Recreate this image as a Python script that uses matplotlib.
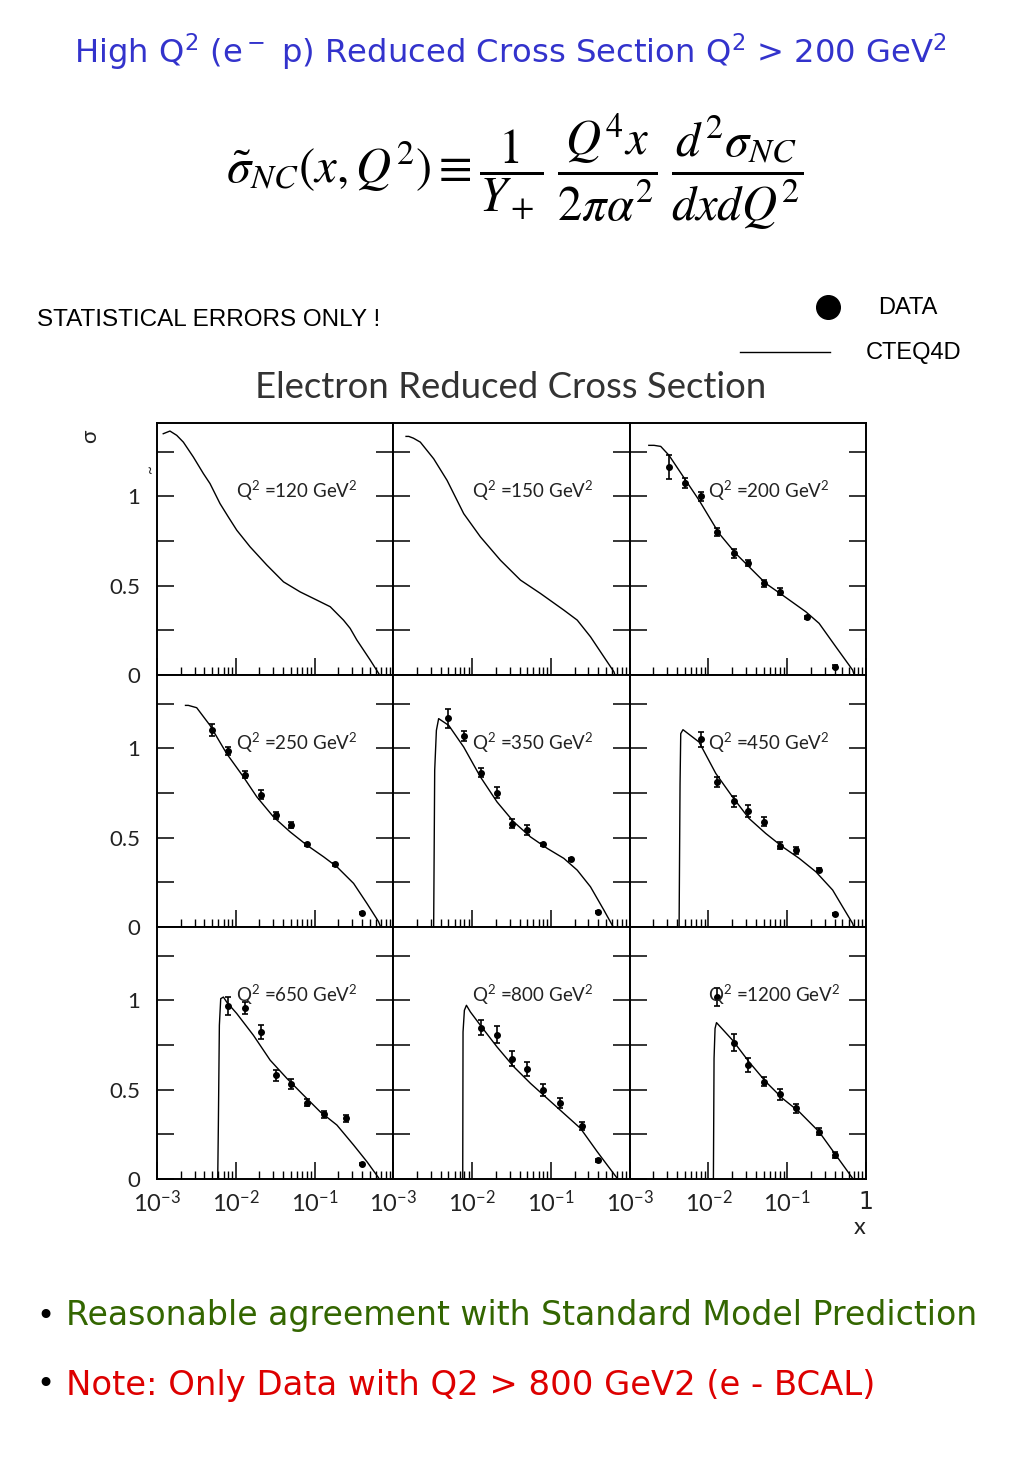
import numpy as np
import matplotlib
matplotlib.use('Agg')
import matplotlib.pyplot as plt

plt.rcParams['mathtext.fontset'] = 'custom'
plt.rcParams['mathtext.rm'] = 'Lato'
plt.rcParams['mathtext.it'] = 'Lato:italic'
plt.rcParams['mathtext.bf'] = 'Lato:bold'
plt.rcParams['mathtext.sf'] = 'Lato'

#%% data
q2_labels = ['120', '150', '200', '250', '350', '450', '650', '800', '1200']

# CTEQ4D curves, one per panel
cteq_x = [
    [1.2e-3, 1.46e-3, 1.78e-3, 2.16e-3, 2.89e-3, 3.88e-3, 4.71e-3, 6.31e-3, 8.05e-3, 1.03e-2, 1.52e-2, 2.48e-2, 4.04e-2, 6.56e-2, 0.107, 0.158, 0.233, 0.283, 0.344, 0.508, 0.649, 0.67],
    [1.45e-3, 1.57e-3, 1.8e-3, 2.2e-3, 3.25e-3, 4.81e-3, 7.82e-3, 1.274e-2, 2.29e-2, 4.11e-2, 7.38e-2, 0.146, 0.216, 0.318, 0.47, 0.631, 0.65],
    [1.75e-3, 2.04e-3, 2.48e-3, 3.16e-3, 5.15e-3, 7.6e-3, 1.365e-2, 2.22e-2, 5.35e-2, 8.71e-2, 0.172, 0.254, 0.414, 0.676, 0.71],
    [2.3e-3, 2.5e-3, 3.19e-3, 4.71e-3, 7.67e-3, 1.25e-2, 1.85e-2, 3.01e-2, 4.9e-2, 7.98e-2, 0.13, 0.192, 0.313, 0.462, 0.649, 0.69],
    [3.25e-3, 3.35e-3, 3.52e-3, 3.76e-3, 5.05e-3, 7.82e-3, 1.274e-2, 2.07e-2, 3.38e-2, 5.51e-2, 8.97e-2, 0.146, 0.216, 0.318, 0.47, 0.601, 0.62],
    [4.24e-3, 4.36e-3, 4.45e-3, 4.75e-3, 7.6e-3, 1.24e-2, 2.02e-2, 3.28e-2, 5.35e-2, 8.71e-2, 0.142, 0.231, 0.377, 0.505, 0.676, 0.70],
    [5.9e-3, 6.01e-3, 6.19e-3, 6.44e-3, 6.97e-3, 7.67e-3, 1.028e-2, 1.675e-2, 2.73e-2, 4.45e-2, 7.24e-2, 0.118, 0.192, 0.313, 0.462, 0.649, 0.66],
    [7.6e-3, 7.67e-3, 7.98e-3, 8.47e-3, 9.5e-3, 1.274e-2, 2.07e-2, 3.38e-2, 5.51e-2, 8.97e-2, 0.146, 0.238, 0.387, 0.519, 0.695, 0.70],
    [1.156e-2, 1.178e-2, 1.213e-2, 1.265e-2, 2.02e-2, 3.28e-2, 5.35e-2, 8.71e-2, 0.142, 0.254, 0.414, 0.676, 0.68],
]
cteq_y = [
    [1.35, 1.365, 1.341, 1.303, 1.22, 1.127, 1.071, 0.959, 0.884, 0.81, 0.717, 0.615, 0.521, 0.465, 0.419, 0.382, 0.307, 0.261, 0.196, 0.084, 0.01, 0.0],
    [1.335, 1.335, 1.325, 1.303, 1.21, 1.089, 0.903, 0.773, 0.642, 0.531, 0.456, 0.363, 0.307, 0.214, 0.102, 0.018, 0.0],
    [1.285, 1.285, 1.279, 1.229, 1.089, 0.978, 0.792, 0.68, 0.512, 0.447, 0.354, 0.289, 0.158, 0.028, 0.0],
    [1.24, 1.24, 1.227, 1.128, 0.97, 0.84, 0.728, 0.616, 0.532, 0.458, 0.393, 0.337, 0.244, 0.132, 0.03, 0.0],
    [0.0, 0.877, 1.10, 1.166, 1.128, 1.007, 0.84, 0.7, 0.588, 0.504, 0.44, 0.384, 0.318, 0.225, 0.095, 0.01, 0.0],
    [0.0, 0.8, 1.082, 1.104, 1.035, 0.859, 0.728, 0.607, 0.523, 0.449, 0.384, 0.309, 0.207, 0.113, 0.02, 0.0],
    [0.0, 0.302, 0.86, 1.009, 1.018, 0.99, 0.926, 0.804, 0.665, 0.563, 0.469, 0.376, 0.302, 0.19, 0.097, 0.007, 0.0],
    [0.0, 0.823, 0.944, 0.972, 0.935, 0.86, 0.739, 0.628, 0.535, 0.451, 0.367, 0.283, 0.153, 0.078, 0.004, 0.0],
    [0.0, 0.674, 0.842, 0.875, 0.777, 0.655, 0.544, 0.451, 0.376, 0.264, 0.134, 0.004, 0.0],
]

# data points (panels without data are empty)
data_x = [
    [],
    [],
    [3.2e-3, 5e-3, 8e-3, 1.3e-2, 2.1e-2, 3.2e-2, 5e-2, 8e-2, 0.18, 0.4],
    [5e-3, 8e-3, 1.3e-2, 2.1e-2, 3.2e-2, 5e-2, 8e-2, 0.18, 0.4],
    [5e-3, 8e-3, 1.3e-2, 2.1e-2, 3.2e-2, 5e-2, 8e-2, 0.18, 0.4],
    [8e-3, 1.3e-2, 2.1e-2, 3.2e-2, 5e-2, 8e-2, 0.13, 0.25, 0.4],
    [8e-3, 1.3e-2, 2.1e-2, 3.2e-2, 5e-2, 8e-2, 0.13, 0.25, 0.4],
    [1.3e-2, 2.1e-2, 3.2e-2, 5e-2, 8e-2, 0.13, 0.25, 0.4],
    [1.3e-2, 2.1e-2, 3.2e-2, 5e-2, 8e-2, 0.13, 0.25, 0.4],
]
data_y = [
    [],
    [],
    [1.164, 1.076, 1.0, 0.80, 0.68, 0.627, 0.512, 0.465, 0.324, 0.046],
    [1.104, 0.983, 0.853, 0.741, 0.626, 0.57, 0.464, 0.35, 0.077],
    [1.169, 1.069, 0.864, 0.75, 0.579, 0.542, 0.462, 0.378, 0.086],
    [1.05, 0.812, 0.704, 0.648, 0.59, 0.456, 0.43, 0.318, 0.071],
    [0.968, 0.957, 0.823, 0.581, 0.531, 0.428, 0.361, 0.339, 0.084],
    [0.845, 0.808, 0.674, 0.615, 0.497, 0.423, 0.296, 0.104],
    [1.018, 0.762, 0.637, 0.544, 0.473, 0.395, 0.264, 0.134],
]
data_err = [
    [],
    [],
    [0.065, 0.027, 0.026, 0.02, 0.023, 0.018, 0.019, 0.019, 0.008, 0.008],
    [0.033, 0.023, 0.02, 0.025, 0.019, 0.015, 0.008, 0.008, 0.006],
    [0.053, 0.03, 0.025, 0.031, 0.023, 0.03, 0.01, 0.006, 0.006],
    [0.042, 0.03, 0.031, 0.033, 0.026, 0.019, 0.02, 0.01, 0.006],
    [0.053, 0.035, 0.039, 0.03, 0.028, 0.021, 0.022, 0.019, 0.006],
    [0.042, 0.047, 0.041, 0.037, 0.034, 0.028, 0.021, 0.008],
    [0.051, 0.047, 0.039, 0.025, 0.03, 0.023, 0.02, 0.017],
]

xticks = [1e-3, 1e-2, 1e-1, 1]
xticklabels = ['$10^{-3}$', '$10^{-2}$', '$10^{-1}$', '1']
yticks = [0, 0.5, 1]
yticklabels = ['0', '0.5', '1']

#%% figure
fig = plt.figure(figsize=(10.24, 14.78), dpi=100)
W, H = 1024, 1478
thin = '#222222'

# panel grid
gs = fig.add_gridspec(3, 3, left=157/W, right=866/W, top=1-423/H, bottom=1-1179/H,
                      wspace=0, hspace=0)
for i in range(9):
    r, c = divmod(i, 3)
    ax = fig.add_subplot(gs[r, c])
    ax.set_xscale('log')
    ax.set_xlim(1e-3, 1)
    ax.set_ylim(0, 1.41)
    ax.plot(cteq_x[i], cteq_y[i], color='black', lw=1.0)
    if len(data_x[i]) > 0:
        ax.errorbar(data_x[i], data_y[i], yerr=data_err[i], fmt='o', color='black',
                    ms=4, elinewidth=1.2, capsize=2.5, capthick=1.2)
    ax.text(1e-2, 1.03, 'Q$^2$ =' + q2_labels[i] + ' GeV$^2$', fontsize=13.5,
            ha='left', va='center', family='Lato', color=thin)
    for s in ax.spines.values():
        s.set_linewidth(1.4)
    ax.set_xticks(xticks)
    ax.xaxis.set_minor_locator(matplotlib.ticker.LogLocator(base=10, subs=np.arange(2, 10)))
    ax.xaxis.set_minor_formatter(matplotlib.ticker.NullFormatter())
    ax.set_yticks(yticks)
    ax.set_yticks([0.25, 0.75, 1.25], minor=True)
    ax.tick_params(axis='x', which='major', direction='in', length=12, width=1.1, top=False)
    ax.tick_params(axis='x', which='minor', direction='in', length=6, width=1.0, top=False)
    ax.tick_params(axis='y', which='both', direction='in', length=12, width=1.1,
                   left=True, right=True)
    if r == 2:
        labs = list(xticklabels) if c == 2 else xticklabels[:3] + ['']
        ax.set_xticklabels(labs, fontsize=17, color=thin)
        ax.tick_params(axis='x', pad=8)
    else:
        ax.set_xticklabels([])
    if c == 0:
        ax.set_yticklabels(yticklabels, fontsize=16, family='Lato', color=thin)
        ax.tick_params(axis='y', pad=12)
    else:
        ax.set_yticklabels([])

# overlay for the header / legend decoration
ov = fig.add_axes([0, 0, 1, 1], facecolor='none')
ov.set_xlim(0, W)
ov.set_ylim(H, 0)
ov.axis('off')
ov.plot([828], [307], 'o', color='black', ms=17)
ov.plot([740, 830], [352, 352], color='black', lw=1)

fig.text(510/W, 1-52/H, 'High Q$^2$ (e$^-$ p) Reduced Cross Section Q$^2$ > 200 GeV$^2$',
         ha='center', va='center', fontsize=23.2, color='#3333cc', family='DejaVu Sans',
         math_fontfamily='dejavusans')
fig.text(515/W, 1-172/H,
         r'$\tilde{\sigma}_{NC}(x,Q^2)\equiv\dfrac{1}{Y_+}\;\dfrac{Q^4x}{2\pi\alpha^2}\;\dfrac{d^2\sigma_{NC}}{dxdQ^2}$',
         ha='center', va='center', fontsize=35, math_fontfamily='stix')
fig.text(37/W, 1-320/H, 'STATISTICAL ERRORS ONLY !', ha='left', va='center', fontsize=17.5,
         family=['Liberation Sans Narrow', 'Liberation Sans'])
fig.text(878/W, 1-308/H, 'DATA', ha='left', va='center', fontsize=17,
         family=['Liberation Sans Narrow', 'Liberation Sans'])
fig.text(866/W, 1-353/H, 'CTEQ4D', ha='left', va='center', fontsize=17,
         family=['Liberation Sans Narrow', 'Liberation Sans'])
fig.text(511/W, 1-388/H, 'Electron Reduced Cross Section', ha='center', va='center',
         fontsize=26.3, family='Lato', color='#333333')
fig.text(90/W, 1-436/H, 'σ', rotation=90, ha='center', va='center', fontsize=16,
         family='Lato', color=thin)
fig.text(151/W, 1-470/H, '~', rotation=90, ha='center', va='center', fontsize=11,
         family='Lato', color=thin)
fig.text(860/W, 1-1228/H, 'x', ha='center', va='center', fontsize=17,
         family='Lato', color=thin)

fig.text(45/W, 1-1316/H, '•', ha='center', va='center', fontsize=22, color='black')
fig.text(66/W, 1-1316/H, 'Reasonable agreement with Standard Model Prediction',
         ha='left', va='center', fontsize=23.9, color='#336600', family='DejaVu Sans')
fig.text(45/W, 1-1385/H, '•', ha='center', va='center', fontsize=22, color='black')
fig.text(66/W, 1-1385/H, 'Note: Only Data with Q2 > 800 GeV2 (e - BCAL)',
         ha='left', va='center', fontsize=24.4, color='#dd0000', family='DejaVu Sans')

fig.savefig('out.png', dpi=100)
